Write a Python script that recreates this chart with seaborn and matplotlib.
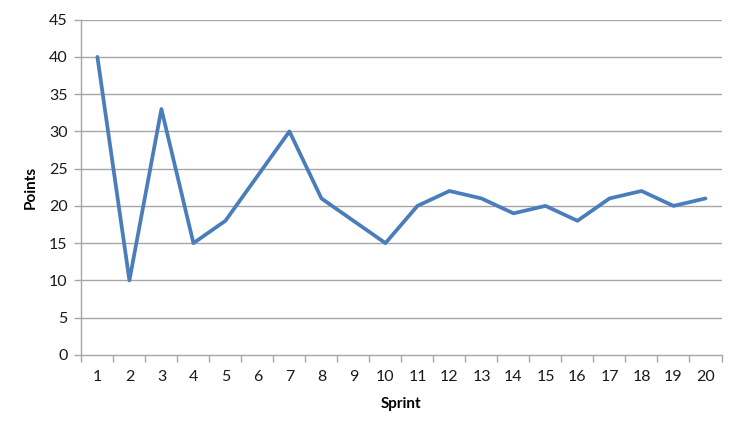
import matplotlib
matplotlib.use("Agg")
import matplotlib.pyplot as plt
import seaborn as sns
import pandas as pd
import numpy as np

sprints = list(range(1, 21))
points = [40, 10, 33, 15, 18, 24, 30, 21, 18, 15, 20, 22, 21, 19, 20, 18, 21, 22, 20, 21]
y_ticks = [0, 5, 10, 15, 20, 25, 30, 35, 40, 45]

sns.set_theme(style="white")
plt.rcParams['font.family'] = ['Lato', 'DejaVu Sans']

df = pd.DataFrame({"Sprint": sprints, "Points": points})

fig = plt.figure(figsize=(7.4, 4.36), dpi=100)
ax = fig.add_axes([0.110, 0.186, 0.865, 0.769])

sns.lineplot(data=df, x="Sprint", y="Points", ax=ax, color="#4a7ebb", linewidth=2.7)

grid_c = "#a6a6a6"
ax.set_xlim(0.5, 20.5)
ax.set_ylim(0, 45)
ax.set_yticks(y_ticks)
ax.set_xticks(sprints)
ax.set_xticklabels([str(s) for s in sprints])
ax.set_xticks(np.arange(0.5, 21, 1.0), minor=True)
for y in y_ticks[1:]:
    ax.axhline(y, color=grid_c, linewidth=1.0, zorder=0)

for s in ["top", "right"]:
    ax.spines[s].set_visible(False)
for s in ["left", "bottom"]:
    ax.spines[s].set_color(grid_c)
    ax.spines[s].set_linewidth(1.0)

ax.tick_params(axis="x", which="major", length=0, pad=11, labelsize=11.5, labelcolor="#1a1a1a")
ax.tick_params(axis="x", which="minor", length=5, width=1, color=grid_c, direction="out", bottom=True)
ax.tick_params(axis="y", which="major", length=5, width=1, color=grid_c, direction="out", left=True, pad=5,
               labelsize=11.5, labelcolor="#1a1a1a")

ax.set_xlabel("Sprint", fontsize=11, fontweight="bold", labelpad=9, color="#000000")
ax.set_ylabel("Points", fontsize=11, fontweight="bold", labelpad=8, color="#000000")

fig.savefig("out.png", dpi=100, facecolor="white")
